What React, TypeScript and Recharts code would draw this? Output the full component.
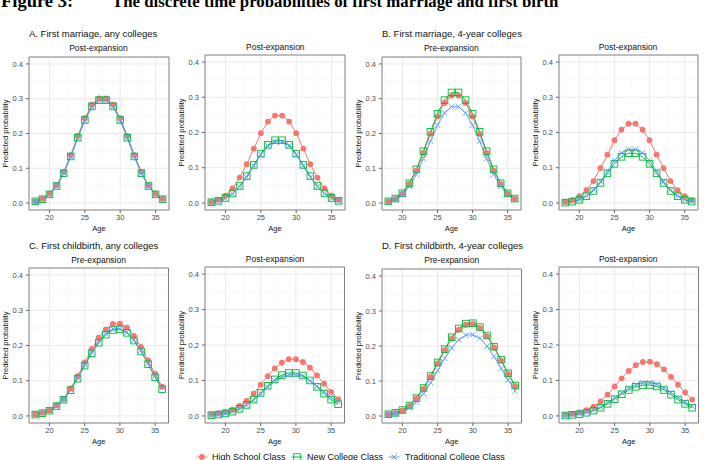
import { LineChart, Line, XAxis, YAxis, CartesianGrid, ReferenceArea } from 'recharts';

// Age at risk, one point per year
const AGES = [18, 19, 20, 21, 22, 23, 24, 25, 26, 27, 28, 29, 30, 31, 32, 33, 34, 35, 36];

// A. First marriage, any colleges
const A1_HIGH = [0.005, 0.012, 0.027, 0.051, 0.089, 0.138, 0.193, 0.244, 0.283, 0.301, 0.301, 0.283, 0.244, 0.193, 0.138, 0.089, 0.051, 0.027, 0.012];
const A1_NEW = [0.005, 0.011, 0.025, 0.049, 0.086, 0.134, 0.188, 0.239, 0.278, 0.296, 0.296, 0.278, 0.239, 0.188, 0.134, 0.086, 0.049, 0.025, 0.011];
const A1_TRAD = [0.005, 0.011, 0.025, 0.048, 0.085, 0.133, 0.187, 0.237, 0.276, 0.294, 0.294, 0.276, 0.237, 0.187, 0.133, 0.085, 0.048, 0.025, 0.011];
const A2_HIGH = [0.003, 0.009, 0.021, 0.041, 0.072, 0.110, 0.154, 0.198, 0.231, 0.248, 0.248, 0.231, 0.198, 0.154, 0.110, 0.072, 0.041, 0.021, 0.009];
const A2_NEW = [0.002, 0.006, 0.014, 0.027, 0.048, 0.076, 0.108, 0.140, 0.165, 0.178, 0.178, 0.165, 0.140, 0.108, 0.076, 0.048, 0.027, 0.014, 0.006];
const A2_TRAD = [0.002, 0.006, 0.013, 0.026, 0.046, 0.073, 0.105, 0.137, 0.162, 0.173, 0.173, 0.162, 0.137, 0.105, 0.073, 0.046, 0.026, 0.013, 0.006];

// B. First marriage, 4-year colleges
const B1_HIGH = [0.005, 0.012, 0.027, 0.055, 0.093, 0.144, 0.199, 0.249, 0.288, 0.309, 0.309, 0.288, 0.249, 0.199, 0.144, 0.093, 0.055, 0.027, 0.012];
const B1_NEW = [0.005, 0.013, 0.028, 0.057, 0.097, 0.149, 0.205, 0.257, 0.296, 0.318, 0.318, 0.296, 0.257, 0.205, 0.149, 0.097, 0.057, 0.028, 0.013];
const B1_TRAD = [0.004, 0.011, 0.024, 0.048, 0.083, 0.128, 0.178, 0.224, 0.259, 0.277, 0.277, 0.259, 0.224, 0.178, 0.128, 0.083, 0.048, 0.024, 0.011];
const B2_HIGH = [0.003, 0.008, 0.019, 0.036, 0.062, 0.099, 0.137, 0.178, 0.208, 0.225, 0.225, 0.208, 0.178, 0.137, 0.099, 0.062, 0.036, 0.019, 0.008];
const B2_NEW = [0.001, 0.004, 0.009, 0.019, 0.034, 0.057, 0.084, 0.111, 0.131, 0.141, 0.141, 0.131, 0.111, 0.084, 0.057, 0.034, 0.019, 0.009, 0.004];
const B2_TRAD = [0.001, 0.004, 0.010, 0.020, 0.037, 0.061, 0.090, 0.120, 0.142, 0.152, 0.152, 0.142, 0.120, 0.090, 0.061, 0.037, 0.020, 0.010, 0.004];

// C. First childbirth, any colleges
const C1_HIGH = [0.005, 0.009, 0.016, 0.030, 0.048, 0.078, 0.113, 0.152, 0.190, 0.222, 0.246, 0.261, 0.262, 0.251, 0.227, 0.196, 0.158, 0.120, 0.083];
const C1_NEW = [0.004, 0.008, 0.015, 0.028, 0.046, 0.073, 0.106, 0.143, 0.178, 0.208, 0.231, 0.244, 0.246, 0.236, 0.214, 0.183, 0.147, 0.110, 0.076];
const C1_TRAD = [0.004, 0.008, 0.015, 0.028, 0.047, 0.075, 0.108, 0.146, 0.182, 0.212, 0.234, 0.247, 0.248, 0.238, 0.216, 0.186, 0.150, 0.114, 0.080];
const C2_HIGH = [0.004, 0.007, 0.011, 0.018, 0.028, 0.042, 0.063, 0.088, 0.112, 0.134, 0.150, 0.160, 0.160, 0.152, 0.136, 0.114, 0.091, 0.068, 0.047];
const C2_NEW = [0.002, 0.004, 0.007, 0.012, 0.020, 0.031, 0.046, 0.065, 0.085, 0.103, 0.115, 0.121, 0.121, 0.114, 0.100, 0.082, 0.063, 0.046, 0.033];
const C2_TRAD = [0.002, 0.004, 0.007, 0.012, 0.019, 0.030, 0.044, 0.062, 0.081, 0.098, 0.110, 0.116, 0.116, 0.111, 0.099, 0.084, 0.068, 0.053, 0.040];

// D. First childbirth, 4-year colleges
const D1_HIGH = [0.005, 0.009, 0.016, 0.029, 0.050, 0.078, 0.112, 0.150, 0.188, 0.222, 0.247, 0.261, 0.263, 0.252, 0.228, 0.196, 0.159, 0.120, 0.085];
const D1_NEW = [0.005, 0.009, 0.017, 0.030, 0.051, 0.080, 0.114, 0.153, 0.191, 0.225, 0.250, 0.264, 0.265, 0.254, 0.230, 0.198, 0.161, 0.122, 0.087];
const D1_TRAD = [0.004, 0.007, 0.013, 0.023, 0.040, 0.064, 0.095, 0.130, 0.165, 0.195, 0.218, 0.231, 0.232, 0.222, 0.200, 0.170, 0.136, 0.103, 0.072];
const D2_HIGH = [0.003, 0.006, 0.010, 0.016, 0.026, 0.041, 0.060, 0.083, 0.106, 0.127, 0.143, 0.152, 0.153, 0.146, 0.131, 0.110, 0.088, 0.066, 0.046];
const D2_NEW = [0.001, 0.003, 0.005, 0.009, 0.015, 0.023, 0.034, 0.047, 0.061, 0.073, 0.082, 0.087, 0.087, 0.083, 0.073, 0.060, 0.046, 0.034, 0.023];
const D2_TRAD = [0.001, 0.003, 0.006, 0.010, 0.016, 0.025, 0.037, 0.051, 0.065, 0.079, 0.088, 0.093, 0.093, 0.089, 0.079, 0.066, 0.052, 0.039, 0.028];

const X_TICKS = [20, 25, 30, 35];
const Y_TICKS = [0, 0.1, 0.2, 0.3, 0.4];
const X_MINOR = [17.5, 22.5, 27.5, 32.5];
const Y_MINOR = [0.05, 0.15, 0.25, 0.35];
const X_DOMAIN: [number, number] = [17.1, 36.9];
const Y_DOMAIN: [number, number] = [-0.02, 0.42];

const SERIES = ['High School Class', 'New College Class', 'Traditional College Class'];
const RED = '#F8766D';
const GREEN = '#00BA38';
const BLUE = '#619CFF';

const SANS = '"Liberation Sans", Arial, sans-serif';
const SERIF = '"Liberation Serif", "Times New Roman", serif';
const AXIS_W = 30;
const AXIS_H = 24;
const M_TOP = 2;
const M_RIGHT = 4;

interface Panel {
  id: string;
  title: string;
  high: number[];
  newc: number[];
  trad: number[];
  x: number;
  y: number;
  w: number;
  h: number;
  titleY: number;
}

const PANELS: Panel[] = [
  { id: 'a1', title: 'Post-expansion', high: A1_HIGH, newc: A1_NEW, trad: A1_TRAD, x: 28.5, y: 57.3, w: 140, h: 153, titleY: 51 },
  { id: 'a2', title: 'Post-expansion', high: A2_HIGH, newc: A2_NEW, trad: A2_TRAD, x: 205.3, y: 55.2, w: 140, h: 155, titleY: 49.5 },
  { id: 'b1', title: 'Pre-expansion', high: B1_HIGH, newc: B1_NEW, trad: B1_TRAD, x: 381.8, y: 57.3, w: 139, h: 153, titleY: 51 },
  { id: 'b2', title: 'Post-expansion', high: B2_HIGH, newc: B2_NEW, trad: B2_TRAD, x: 558.5, y: 55.2, w: 139, h: 155, titleY: 49.5 },
  { id: 'c1', title: 'Pre-expansion', high: C1_HIGH, newc: C1_NEW, trad: C1_TRAD, x: 28.8, y: 268, w: 139.5, h: 155, titleY: 263 },
  { id: 'c2', title: 'Post-expansion', high: C2_HIGH, newc: C2_NEW, trad: C2_TRAD, x: 205.3, y: 267, w: 139.5, h: 156, titleY: 261.5 },
  { id: 'd1', title: 'Pre-expansion', high: D1_HIGH, newc: D1_NEW, trad: D1_TRAD, x: 382, y: 269, w: 139.5, h: 154, titleY: 263 },
  { id: 'd2', title: 'Post-expansion', high: D2_HIGH, newc: D2_NEW, trad: D2_TRAD, x: 558.5, y: 267, w: 139.5, h: 156, titleY: 261.5 },
];

const GROUP_TITLES = [
  { text: 'A. First marriage, any colleges', x: 29, y: 37 },
  { text: 'B. First marriage, 4-year colleges', x: 382, y: 37 },
  { text: 'C. First childbirth, any colleges', x: 29, y: 249 },
  { text: 'D. First childbirth, 4-year colleges', x: 382, y: 249 },
];

// point glyphs, ggplot shapes 16 / 0 / 4
const circle = (cx: number, cy: number, k?: string) => (
  <circle key={k} cx={cx} cy={cy} r={2.9} fill={RED} />
);
const square = (cx: number, cy: number, k?: string) => (
  <rect key={k} x={cx - 3.3} y={cy - 3.3} width={6.6} height={6.6} fill="none" stroke={GREEN} strokeWidth={0.9} />
);
const cross = (cx: number, cy: number, k?: string) => (
  <path key={k} d={`M${cx - 2.8},${cy - 2.8}L${cx + 2.8},${cy + 2.8}M${cx - 2.8},${cy + 2.8}L${cx + 2.8},${cy - 2.8}`} stroke={BLUE} strokeWidth={0.9} />
);

const GLYPHS = [circle, square, cross];
const COLORS = [RED, GREEN, BLUE];
const KEYS = ['high', 'newc', 'trad'];

function PanelChart({ p }: { p: Panel }) {
  const rows = AGES.map((age, i) => ({ age, high: p.high[i], newc: p.newc[i], trad: p.trad[i] }));
  const tick = { fontSize: 7.5, fill: '#4D4D4D', fontFamily: SANS };
  return (
    <div style={{ position: 'absolute', left: p.x - AXIS_W, top: p.y - M_TOP }}>
      <LineChart
        width={AXIS_W + p.w + M_RIGHT}
        height={M_TOP + p.h + AXIS_H}
        data={rows}
        margin={{ top: M_TOP, right: M_RIGHT, bottom: 0, left: 0 }}
      >
        <CartesianGrid verticalValues={X_MINOR} horizontalValues={Y_MINOR} stroke="#F3F3F3" strokeWidth={0.6} />
        <CartesianGrid verticalValues={X_TICKS} horizontalValues={Y_TICKS} stroke="#E8E8E8" strokeWidth={0.9} />
        <XAxis
          type="number"
          dataKey="age"
          domain={X_DOMAIN}
          ticks={X_TICKS}
          height={AXIS_H}
          axisLine={false}
          tickSize={3}
          tickMargin={2}
          tickLine={{ stroke: '#666' }}
          tick={tick}
          label={{ value: 'Age', position: 'insideBottom', offset: 3.5, style: { fontSize: 7.5, fill: '#111', fontFamily: SANS } }}
        />
        <YAxis
          type="number"
          domain={Y_DOMAIN}
          ticks={Y_TICKS}
          width={AXIS_W}
          axisLine={false}
          tickSize={3}
          tickMargin={3}
          tickLine={{ stroke: '#666' }}
          tick={tick}
          tickFormatter={(v: number) => v.toFixed(1)}
          label={{
            value: 'Predicted probability',
            angle: -90,
            position: 'insideLeft',
            offset: 6.5,
            style: { textAnchor: 'middle', fontSize: 7.5, fill: '#111', fontFamily: SANS },
          }}
        />
        {/* lines first, then points on top, as ggplot layers them */}
        {KEYS.map((k, i) => (
          <Line key={`l-${k}`} type="linear" dataKey={k} stroke={COLORS[i]} strokeWidth={1} dot={false} activeDot={false} isAnimationActive={false} />
        ))}
        {KEYS.map((k, i) => (
          <Line
            key={`p-${k}`}
            type="linear"
            dataKey={k}
            stroke="none"
            activeDot={false}
            isAnimationActive={false}
            dot={(d: any) => GLYPHS[i](d.cx, d.cy, `${k}-${d.index}`)}
          />
        ))}
        <ReferenceArea x1={X_DOMAIN[0]} x2={X_DOMAIN[1]} y1={Y_DOMAIN[0]} y2={Y_DOMAIN[1]} fill="none" fillOpacity={0} stroke="#707070" strokeWidth={0.9} />
      </LineChart>
    </div>
  );
}

// legend entries: key centre x, text start x
const LEGEND_POS = [
  { kx: 202, tx: 212 },
  { kx: 297, tx: 307 },
  { kx: 394, tx: 405 },
];

export default function App() {
  return (
    <div style={{ position: 'absolute', left: 0, top: 0, width: 704, height: 460, background: '#fff', overflow: 'hidden' }}>
      <svg width={704} height={460} style={{ position: 'absolute', left: 0, top: 0 }}>
        <text y={7} fontFamily={SERIF} fontWeight="bold" fill="#000">
          <tspan x={1} fontSize={18.5}>Figure 3:</tspan>
          <tspan x={112} fontSize={16.8}>The discrete time probabilities of first marriage and first birth</tspan>
        </text>
        {GROUP_TITLES.map((g) => (
          <text key={g.text} x={g.x} y={g.y} fontFamily={SANS} fontSize={9.5} fill="#111">
            {g.text}
          </text>
        ))}
        {PANELS.map((p) => (
          <text key={p.id} x={p.x + p.w / 2} y={p.titleY} textAnchor="middle" fontFamily={SANS} fontSize={8.5} fill="#111">
            {p.title}
          </text>
        ))}
        {SERIES.map((s, i) => {
          const { kx, tx } = LEGEND_POS[i];
          const cy = 457;
          return (
            <g key={s}>
              <line x1={kx - 5.5} x2={kx + 5.5} y1={cy} y2={cy} stroke={COLORS[i]} strokeWidth={1} />
              {GLYPHS[i](kx, cy)}
              <text x={tx} y={cy + 3.3} fontFamily={SANS} fontSize={9} fill="#111">
                {s}
              </text>
            </g>
          );
        })}
      </svg>
      {PANELS.map((p) => (
        <PanelChart key={p.id} p={p} />
      ))}
    </div>
  );
}
